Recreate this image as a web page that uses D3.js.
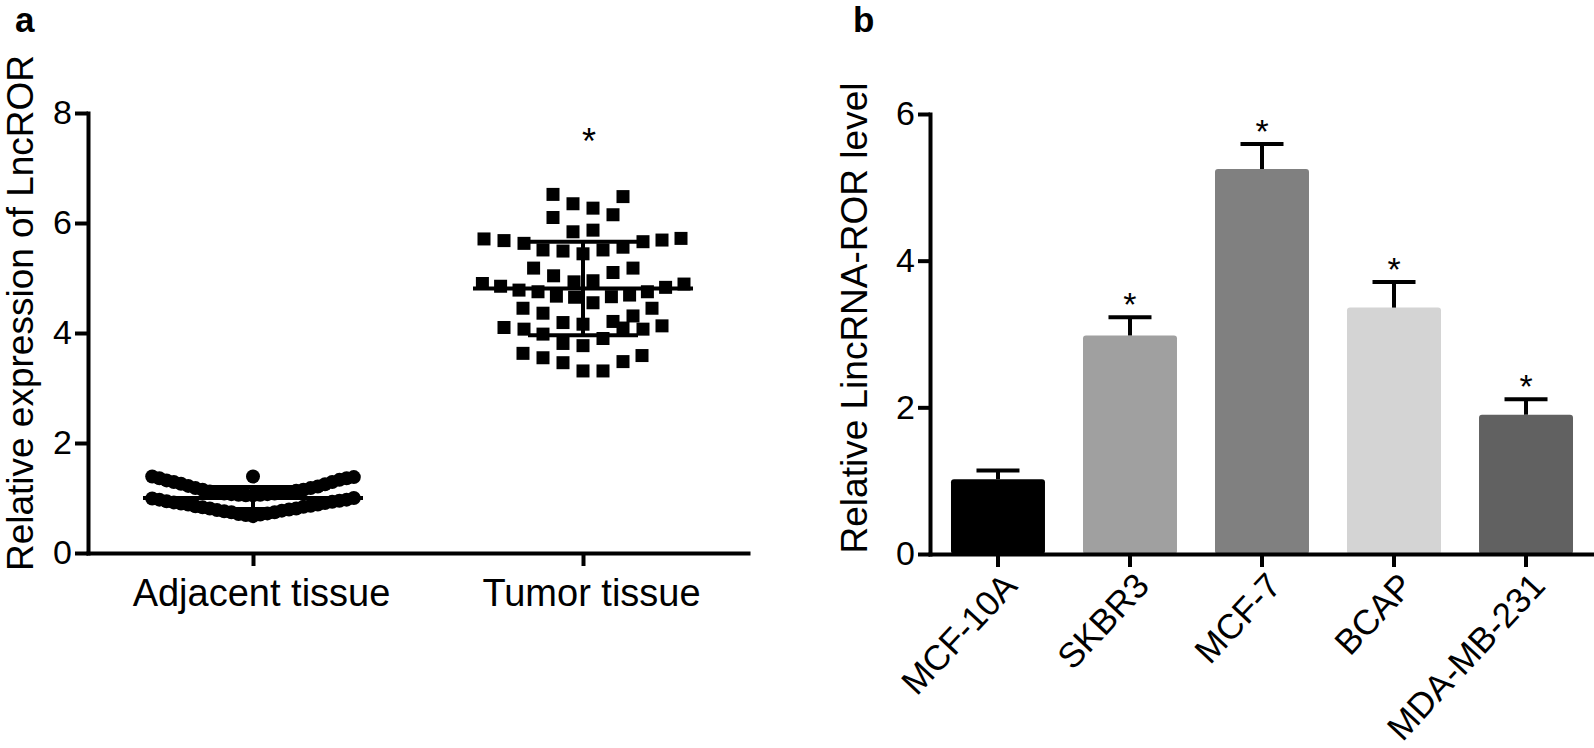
<!DOCTYPE html>
<html>
<head>
<meta charset="utf-8">
<script src="https://cdn.jsdelivr.net/npm/d3@7"></script>
<style>
  body { margin: 0; background: #fff; }
  svg text { font-family: Arial, "Liberation Sans", Helvetica, sans-serif; fill: #000; }
</style>
</head>
<body>
<div id="chart"></div>
<script>
// ----- data: panel a (scatter, mean ± SD) -----
const groups = ["Adjacent tissue", "Tumor tissue"];

// adjacent tissue: values and swarm column (in point-slot units)
const adjacentValues = [
  0.67, 0.69, 0.70, 0.71, 0.72, 0.74, 0.74, 0.76, 0.77, 0.78, 0.79, 0.81, 0.81, 0.83, 0.84,
  0.85, 0.86, 0.88, 0.88, 0.90, 0.91, 0.92, 0.93, 0.94, 0.95, 0.97, 0.97, 0.99, 1.00,
  1.05, 1.05, 1.06, 1.06, 1.07, 1.07, 1.08, 1.08, 1.09, 1.10, 1.10, 1.12, 1.13, 1.15, 1.15,
  1.18, 1.18, 1.22, 1.21, 1.26, 1.25, 1.29, 1.29, 1.32, 1.33, 1.36, 1.36, 1.39, 1.38,
  1.39
];
const adjacentSlots = [
  0, -0.36, 0.36, -0.72, 0.72, -1.08, 1.08, -1.44, 1.44, -1.8, 1.8, -2.16, 2.16, -2.52, 2.52,
  -2.88, 2.88, -3.24, 3.24, -3.6, 3.6, -3.96, 3.96, -4.32, 4.32, -4.68, 4.68, -5.04, 5.04,
  0, -0.36, 0.36, -0.72, 0.72, -1.08, 1.08, -1.44, 1.44, -1.8, 1.8, -2.16, 2.16, -2.52, 2.52,
  -2.88, 2.88, -3.24, 3.24, -3.6, 3.6, -3.96, 3.96, -4.32, 4.32, -4.68, 4.68, -5.04, 5.04,
  0
];

// tumor tissue
const tumorValues = [
  6.52, 6.48, 6.35, 6.27, 6.10, 6.15, 5.84, 5.87,
  5.71, 5.68, 5.63, 5.66, 5.69, 5.72,
  5.51, 5.49, 5.44, 5.51, 5.56,
  5.18, 5.04, 5.10, 5.18, 4.93, 4.95,
  4.90, 4.85, 4.78, 4.75, 4.67, 4.65, 4.55, 4.66, 4.69, 4.75, 4.83, 4.89,
  4.45, 4.36, 4.45,
  4.19, 4.16, 4.21, 4.31,
  4.10, 4.07, 4.09, 4.07, 4.13,
  3.98, 3.81, 3.77, 3.90,
  3.63, 3.55, 3.46, 3.31, 3.31, 3.48, 3.59
];
const tumorSlots = [
  -1.5, 2, -0.5, 0.5, -1.5, 1.5, -0.5, 0.5,
  -4.95, -3.95, -2.95, 3, 3.95, 4.9,
  -2, -1, 0, 1, 2,
  -2.47, -1.47, 1.5, 2.5, -0.45, 0.5,
  -5.03, -4.12, -3.2, -2.25, -1.33, -0.42, 0.5, 1.42, 2.33, 3.22, 4.13, 5.05,
  -3, -2, 3.45,
  -1, 0, 1.5, 2.5,
  -3.95, -2.95, 2, 3, 3.95,
  -2,
  -1, 0, 1,
  -3, -2, -1, 0, 1, 2, 2.95
];

const groupMeans = [1.0, 4.81];
const groupSDs = [0.2, 0.85];
const groupStars = ["", "*"];
const leftTicks = [0, 2, 4, 6, 8];

// ----- data: panel b (bars ± SD) -----
const cellLines = ["MCF-10A", "SKBR3", "MCF-7", "BCAP", "MDA-MB-231"];
const cellMeans = [1.02, 2.98, 5.25, 3.36, 1.90];
const cellErrors = [0.12, 0.25, 0.34, 0.35, 0.21];
const cellStars = ["", "*", "*", "*", "*"];
const rightTicks = [0, 2, 4, 6];

// ----- setup -----
const W = 1594, H = 748;
const font = 'Arial, "Liberation Sans", Helvetica, sans-serif';

const svg = d3.select("#chart").append("svg")
    .attr("width", W)
    .attr("height", H);

function styleAxis(g, size) {
    g.attr("font-family", font);
    g.select(".domain").attr("stroke", "#000").attr("stroke-width", 4).attr("stroke-linecap", "square");
    g.selectAll(".tick line").attr("stroke", "#000").attr("stroke-width", 4);
    g.selectAll(".tick text").style("font-size", size + "px").attr("fill", "#000");
}

// ===== Panel a =====
const yA = d3.scaleLinear().domain([0, 8]).range([553, 113]);
const xA = d3.scalePoint().domain(groups).range([88, 748]).padding(0.5);
const slot = d3.scaleLinear().domain([-1, 1]).range([-20, 20]);

const adjacent = adjacentValues.map((v, i) => ({ value: v, slot: adjacentSlots[i] }));
const tumor = tumorValues.map((v, i) => ({ value: v, slot: tumorSlots[i] }));

// circles (adjacent)
svg.append("g").selectAll("circle")
    .data(adjacent)
    .enter().append("circle")
    .attr("cx", d => xA(groups[0]) + slot(d.slot))
    .attr("cy", d => yA(d.value))
    .attr("r", 7)
    .attr("fill", "#000");

// squares (tumor)
svg.append("g").selectAll("rect")
    .data(tumor)
    .enter().append("rect")
    .attr("x", d => xA(groups[1]) + slot(d.slot) - 6.5)
    .attr("y", d => yA(d.value) - 6.5)
    .attr("width", 13)
    .attr("height", 13)
    .attr("fill", "#000");

// mean and SD lines
groups.forEach((g, i) => {
    const cx = xA(g);
    const m = groupMeans[i], s = groupSDs[i];
    const lines = [
        [cx + slot(-5.5), yA(m), cx + slot(5.5), yA(m)],
        [cx + slot(-2.75), yA(m + s), cx + slot(2.75), yA(m + s)],
        [cx + slot(-2.75), yA(m - s), cx + slot(2.75), yA(m - s)],
        [cx, yA(m + s), cx, yA(m - s)]
    ];
    svg.append("g").selectAll("line")
        .data(lines)
        .enter().append("line")
        .attr("x1", d => d[0]).attr("y1", d => d[1])
        .attr("x2", d => d[2]).attr("y2", d => d[3])
        .attr("stroke", "#000")
        .attr("stroke-width", 4);
});

// significance star above tumor group
svg.append("g").selectAll("text")
    .data(groups.filter((g, i) => groupStars[i]))
    .enter().append("text")
    .attr("x", d => xA(d) + 6)
    .attr("y", yA(d3.max(tumorValues)) - 40)
    .attr("text-anchor", "middle")
    .style("font-size", "36px")
    .text("*");

const axA_y = svg.append("g")
    .attr("transform", `translate(${xA.range()[0]},0)`)
    .call(d3.axisLeft(yA).tickValues(leftTicks).tickFormat(d3.format("d"))
        .tickSize(13).tickSizeOuter(0).tickPadding(3));
styleAxis(axA_y, 34);

const axA_x = svg.append("g")
    .attr("transform", `translate(0,${yA(0)})`)
    .call(d3.axisBottom(xA).tickSize(13).tickSizeOuter(0).tickPadding(13));
styleAxis(axA_x, 38);
axA_x.selectAll(".tick text").attr("dx", 8);

svg.append("text")
    .attr("transform", "translate(33,313) rotate(-90)")
    .attr("text-anchor", "middle")
    .style("font-size", "37px")
    .text("Relative expression of LncROR");

svg.append("text")
    .attr("x", 15).attr("y", 32)
    .style("font-size", "35px")
    .style("font-weight", "bold")
    .text("a");

// ===== Panel b =====
const yB = d3.scaleLinear().domain([0, 6]).range([554, 114]);
const xB = d3.scaleBand().domain(cellLines).range([930, 1594]).paddingInner(0.288).paddingOuter(0.159);
const barColor = d3.scaleOrdinal().domain(cellLines)
    .range(["#000000", "#a0a0a0", "#808080", "#d4d4d4", "#616161"]);

const bars = cellLines.map((c, i) => ({ name: c, mean: cellMeans[i], err: cellErrors[i], star: cellStars[i] }));

svg.append("g").selectAll("rect")
    .data(bars)
    .enter().append("rect")
    .attr("x", d => xB(d.name))
    .attr("y", d => yB(d.mean))
    .attr("width", xB.bandwidth())
    .attr("height", d => yB(0) - yB(d.mean))
    .attr("rx", 3)
    .attr("fill", d => barColor(d.name));

// error bars (upper only)
const eb = svg.append("g").selectAll("g")
    .data(bars)
    .enter().append("g");

eb.append("line")
    .attr("x1", d => xB(d.name) + xB.bandwidth() / 2)
    .attr("x2", d => xB(d.name) + xB.bandwidth() / 2)
    .attr("y1", d => yB(d.mean))
    .attr("y2", d => yB(d.mean + d.err))
    .attr("stroke", "#000")
    .attr("stroke-width", 4);

eb.append("line")
    .attr("x1", d => xB(d.name) + xB.bandwidth() / 2 - 21.5)
    .attr("x2", d => xB(d.name) + xB.bandwidth() / 2 + 21.5)
    .attr("y1", d => yB(d.mean + d.err))
    .attr("y2", d => yB(d.mean + d.err))
    .attr("stroke", "#000")
    .attr("stroke-width", 4);

eb.append("text")
    .attr("x", d => xB(d.name) + xB.bandwidth() / 2)
    .attr("y", d => yB(d.mean + d.err) - 1)
    .attr("text-anchor", "middle")
    .style("font-size", "34px")
    .text(d => d.star);

const axB_y = svg.append("g")
    .attr("transform", `translate(${xB.range()[0]},0)`)
    .call(d3.axisLeft(yB).tickValues(rightTicks).tickFormat(d3.format("d"))
        .tickSize(12).tickSizeOuter(0).tickPadding(3));
styleAxis(axB_y, 34);

const axB_x = svg.append("g")
    .attr("transform", `translate(0,${yB(0)})`)
    .call(d3.axisBottom(xB).tickSize(13).tickSizeOuter(0));
styleAxis(axB_x, 35);
axB_x.selectAll(".tick text")
    .attr("x", 0)
    .attr("y", 0)
    .attr("dy", "0.35em")
    .attr("text-anchor", "end")
    .attr("transform", "translate(12,25) rotate(-47)");

svg.append("text")
    .attr("transform", "translate(867,318) rotate(-90)")
    .attr("text-anchor", "middle")
    .style("font-size", "37px")
    .text("Relative LincRNA-ROR level");

svg.append("text")
    .attr("x", 853).attr("y", 32)
    .style("font-size", "35px")
    .style("font-weight", "bold")
    .text("b");
</script>
</body>
</html>
